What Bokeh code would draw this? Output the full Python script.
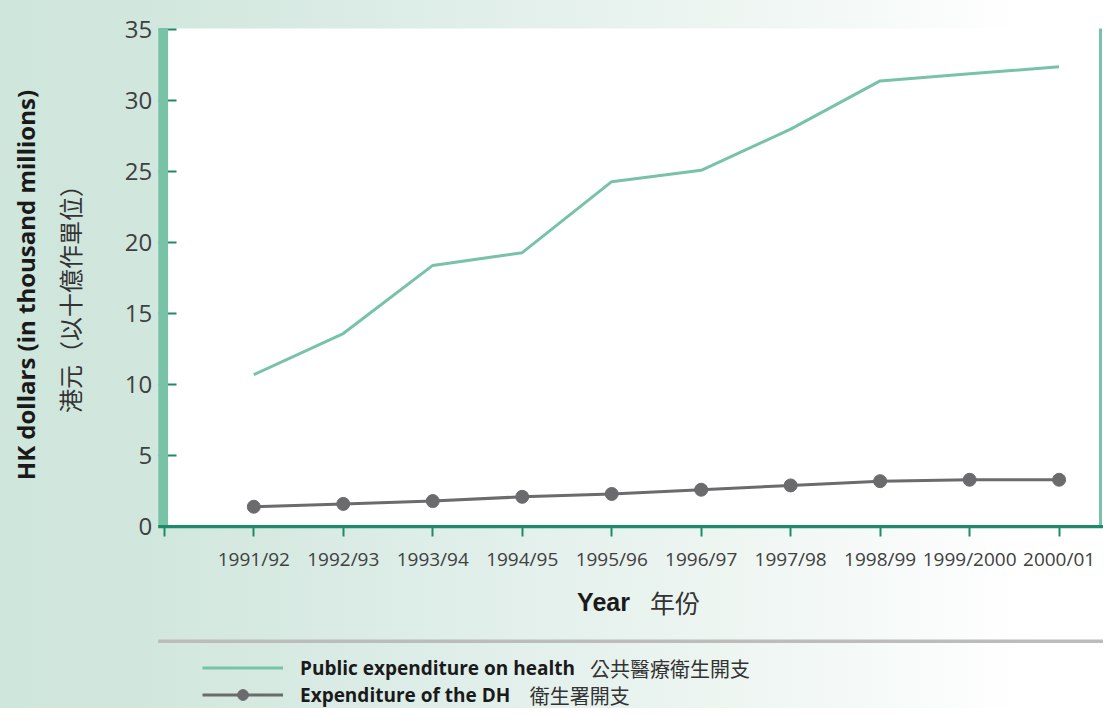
import math
from bokeh.plotting import figure
from bokeh.models import (FixedTicker, Range1d, Label, Legend, LegendItem,
                          BoxAnnotation, ColumnDataSource)
from bokeh.embed import file_html
from bokeh.resources import INLINE

# ---------------- data ----------------
years = ["1991/92", "1992/93", "1993/94", "1994/95", "1995/96",
         "1996/97", "1997/98", "1998/99", "1999/2000", "2000/01"]
public_health = [10.7, 13.6, 18.4, 19.3, 24.3, 25.1, 28.0, 31.4, 31.9, 32.4]
dh_expenditure = [1.4, 1.6, 1.8, 2.1, 2.3, 2.6, 2.9, 3.2, 3.3, 3.3]
y_ticks = [0, 5, 10, 15, 20, 25, 30, 35]

series_names = ["Public expenditure on health", "Expenditure of the DH"]
series_names_zh = ["公共醫療衛生開支", "衛生署開支"]
y_label_en = "HK dollars (in thousand millions)"
y_label_zh = "港元（以十億作單位）"
x_label_en = "Year"
x_label_zh = "年份"

# ---------------- layout (figure pixels) ----------------
W, H = 1103, 708
PT = 28                          # top of the plotting area
PL, PR = 157.7, 1100             # left (bar edge) / right border of the plotting area
CAT0, CAT_STEP = 163.8, 89.48    # pixel of category position 0 and spacing
ZERO_PX, PX_PER_UNIT = 526.1, 14.194


def dx(px):
    return (px - CAT0) / CAT_STEP


def dy(py):
    return (ZERO_PX - py) / PX_PER_UNIT


X0, X1 = dx(0), dx(W)
Y0, Y1 = dy(H), dy(0)

GREEN = "#78c3a7"
DARK_GREEN = "#1f8a6a"
GREY = "#6b6b6e"

positions = list(range(1, len(years) + 1))
src = ColumnDataSource(dict(x=positions, public=public_health, dh=dh_expenditure))

p = figure(width=W, height=H, x_range=Range1d(X0, X1), y_range=Range1d(Y0, Y1),
           output_backend="svg", toolbar_location=None,
           min_border_left=0, min_border_right=0,
           min_border_top=0, min_border_bottom=0)
p.styles = {"background": "linear-gradient(to right, #cfe6dc 0%, #d1e7dd 13%, #d9ebe4 30%, "
                          "#e3f0eb 48%, #edf5f1 65%, #f6faf8 80%, #ffffff 93%)"}
p.border_fill_color = None
p.background_fill_color = None
p.outline_line_color = None
p.grid.visible = False

# white plotting area
p.add_layout(BoxAnnotation(left=dx(PL), right=dx(PR), bottom=0, top=dy(PT),
                           fill_color="white", fill_alpha=1, line_color=None, level="underlay"))

# ---------------- glyphs ----------------
r_pub = p.line("x", "public", source=src, line_color=GREEN, line_width=3)
r_dh = p.line("x", "dh", source=src, line_color=GREY, line_width=3)
r_dhp = p.scatter("x", "dh", source=src, size=13, fill_color=GREY, line_color=GREY)

# ---------------- axes ----------------
xax = p.xaxis[0]
xax.fixed_location = 0
xax.ticker = FixedTicker(ticks=list(range(0, len(years) + 1)))
overrides = {0: ""}
for i, yl in enumerate(years):
    overrides[i + 1] = yl
xax.major_label_overrides = overrides
xax.axis_line_color = None
xax.major_tick_line_color = DARK_GREEN
xax.major_tick_line_width = 2
xax.major_tick_out = 10
xax.major_tick_in = 0
xax.minor_tick_line_color = None
xax.major_label_text_font = "Open Sans"
xax.major_label_text_font_size = "19px"
xax.major_label_text_color = "#404040"
xax.major_label_standoff = 9

yax = p.yaxis[0]
yax.fixed_location = dx(PL)
yax.ticker = FixedTicker(ticks=y_ticks)
yax.axis_line_color = None
yax.major_tick_line_color = DARK_GREEN
yax.major_tick_line_width = 2
yax.major_tick_in = 18
yax.major_tick_out = 0
yax.minor_tick_line_color = None
yax.major_label_text_font = "Open Sans"
yax.major_label_text_font_size = "24px"
yax.major_label_text_color = "#404040"
yax.major_label_standoff = 6

# thick light-green left bar, thin right border, dark-green base line
p.add_layout(BoxAnnotation(left=dx(PL), right=dx(167.6), bottom=0, top=dy(PT),
                           fill_color=GREEN, fill_alpha=1, line_color=None))
p.add_layout(BoxAnnotation(left=dx(PR - 1.5), right=dx(PR + 1.5), bottom=0, top=dy(PT),
                           fill_color=GREEN, fill_alpha=1, line_color=None))
p.add_layout(BoxAnnotation(left=dx(PL), right=X1, bottom=dy(ZERO_PX + 1.6), top=dy(ZERO_PX - 1.6),
                           fill_color=DARK_GREEN, fill_alpha=1, line_color=None))

# ---------------- axis titles ----------------
p.add_layout(Label(x=dx(24.6), y=dy(284.6), text=y_label_en, angle=math.pi / 2,
                   text_font="Open Sans", text_font_style="bold", text_font_size="24px",
                   text_color="#1a1a1a", text_align="center", text_baseline="middle"))
p.add_layout(Label(x=dx(69), y=dy(292.4), text=y_label_zh, angle=math.pi / 2,
                   text_font="Noto Sans CJK TC", text_font_size="24px",
                   text_color="#333333", text_align="center", text_baseline="middle"))

p.add_layout(Label(x=dx(576.6), y=dy(601.4), text=x_label_en, text_font="Liberation Sans",
                   text_font_style="bold", text_font_size="25px", text_color="#1a1a1a",
                   text_baseline="middle", text_align="left"))
p.add_layout(Label(x=dx(649.6), y=dy(601.4), text=x_label_zh, text_font="Noto Sans CJK TC",
                   text_font_size="25px", text_color="#333333",
                   text_baseline="middle", text_align="left"))

# separator
p.add_layout(BoxAnnotation(left=dx(PL), right=X1, top=dy(639), bottom=dy(642.5),
                           fill_color="#bcbcbc", fill_alpha=1, line_color=None))

# ---------------- legend ----------------
legend = Legend(items=[LegendItem(label=series_names[0], renderers=[r_pub]),
                       LegendItem(label=series_names[1], renderers=[r_dh, r_dhp])],
                location=(202, 0), orientation="vertical",
                glyph_width=81, glyph_height=27, label_height=27, label_standoff=17,
                spacing=0, padding=0, margin=0,
                border_line_color=None, background_fill_alpha=0,
                label_text_font="Open Sans", label_text_font_style="bold",
                label_text_font_size="19px", label_text_color="#1a1a1a")
p.add_layout(legend)

p.add_layout(Label(x=dx(589.4), y=dy(667.5), text=series_names_zh[0], text_font="Noto Sans CJK TC",
                   text_font_size="20px", text_color="#333333",
                   text_baseline="middle", text_align="left"))
p.add_layout(Label(x=dx(529.3), y=dy(694.5), text=series_names_zh[1], text_font="Noto Sans CJK TC",
                   text_font_size="20px", text_color="#333333",
                   text_baseline="middle", text_align="left"))

open("out.html", "w").write(file_html(p, INLINE))
